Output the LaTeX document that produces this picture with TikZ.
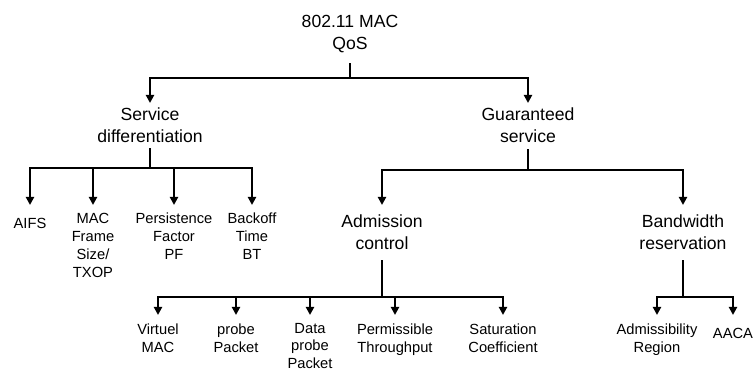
\documentclass[tikz,border=0pt]{standalone}
\usepackage{fontspec}
\setmainfont{Liberation Sans}
\usetikzlibrary{arrows.meta}
\begin{document}
\begin{tikzpicture}[x=1pt,y=-1pt,
 big/.style={font=\fontsize{17.6}{22}\selectfont, align=center, inner sep=0pt, anchor=north},
 small/.style={font=\fontsize{14.7}{18}\selectfont, align=center, inner sep=0pt, anchor=north},
 conn/.style={line width=2pt},
 arr/.style={line width=2pt, -{Triangle[width=8pt,length=8pt]}}]
\useasboundingbox (0,0) rectangle (753,371);
% nodes
\node[big] (root) at (350,15) {802.11 MAC\\QoS};
\node[big] (sd) at (150,108) {Service\\differentiation};
\node[big] (gs) at (528,108) {Guaranteed\\service};
\node[small] (aifs) at (30,218) {AIFS};
\node[small] (mac) at (93,213) {MAC\\Frame\\Size/\\TXOP};
\node[small] (pf) at (174,213) {Persistence\\Factor\\PF};
\node[small] (bt) at (252,213) {Backoff\\Time\\BT};
\node[big] (ac) at (382,215) {Admission\\control};
\node[big] (br) at (683,215) {Bandwidth\\reservation};
\node[small] (vm) at (158,324) {Virtuel\\MAC};
\node[small] (pp) at (236,324) {probe\\Packet};
\node[small, font=\fontsize{14.7}{17.4}\selectfont] (dp) at (310,323) {Data\\probe\\Packet};
\node[small] (pt) at (395,324) {Permissible\\Throughput};
\node[small] (sc) at (503,324) {Saturation\\Coefficient};
\node[small] (ar) at (657,324) {Admissibility\\Region};
\node[small] (aaca) at (733,328) {AACA};
% junctions
\coordinate (j0) at (350,78);
\coordinate (j1) at (150,168);
\coordinate (j2) at (528,170);
\coordinate (j3) at (382,297);
\coordinate (j4) at (683,297);
% connectors
\draw[conn, shorten <=10pt] (root.south) -- (j0);
\draw[arr, shorten >=5pt] (j0) -| (sd.north);
\draw[arr, shorten >=5pt] (j0) -| (gs.north);
\draw[conn, shorten <=5pt] (sd.south) -- (j1);
\draw[arr, shorten >=13pt] (j1) -| (aifs.north);
\draw[arr, shorten >=8pt] (j1) -| (mac.north);
\draw[arr, shorten >=8pt] (j1) -| (pf.north);
\draw[arr, shorten >=8pt] (j1) -| (bt.north);
\draw[conn, shorten <=6pt] (gs.south) -- (j2);
\draw[arr, shorten >=10pt] (j2) -| (ac.north);
\draw[arr, shorten >=10pt] (j2) -| (br.north);
\draw[conn, shorten <=10pt] (ac.south) -- (j3);
\draw[arr, shorten >=9pt] (j3) -| (vm.north);
\draw[arr, shorten >=9pt] (j3) -| (pp.north);
\draw[arr, shorten >=8pt] (j3) -| (dp.north);
\draw[arr, shorten >=9pt] (j3) -| (pt.north);
\draw[arr, shorten >=9pt] (j3) -| (sc.north);
\draw[conn, shorten <=10pt] (br.south) -- (j4);
\draw[arr, shorten >=9pt] (j4) -| (ar.north);
\draw[arr, shorten >=13pt] (j4) -| (aaca.north);
\end{tikzpicture}
\end{document}
